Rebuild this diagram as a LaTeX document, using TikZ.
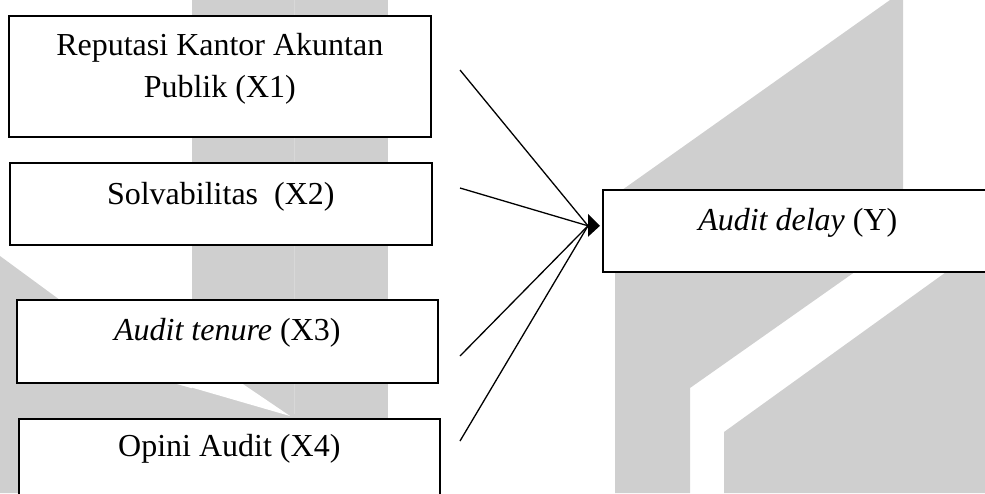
\documentclass[tikz,border=0pt]{standalone}
\usepackage{fontspec}
\setmainfont{Liberation Serif}
\usetikzlibrary{calc}
\definecolor{wmgray}{RGB}{207,207,207}
\definecolor{wmline}{RGB}{216,216,216}

\begin{document}
\begin{tikzpicture}[x=1pt,y=-1pt,
  varbox/.style={draw=black, line width=1.6pt, fill=white, rectangle,
    inner sep=0pt, anchor=north west},
  lbl/.style={font=\fontsize{32}{42}\selectfont, anchor=base, align=center,
    inner sep=0pt},
  link/.style={line width=1.3pt}]
\useasboundingbox (0,0) rectangle (985,493);
\clip (0,0) rectangle (985,493);

% background logo shapes
\fill[wmgray] (192,0) rectangle (388,493);
\fill[wmgray] (0,256) -- (173,383) -- (290,416) -- (290,493) -- (0,493) -- cycle;
\fill[white] (152,376) -- (231,376) -- (290,416) -- cycle;
\draw[wmline, line width=1pt] (294,0) -- (294,414);
\fill[wmgray] (890,0) -- (903,0) -- (903,238) -- (690,388) -- (690,493)
  -- (615,493) -- (615,195) -- cycle;
\fill[wmgray] (724,432) -- (985,244) -- (985,493) -- (724,493) -- cycle;

% variable boxes
\node[varbox, minimum width=422pt, minimum height=121pt] (x1) at (8,15) {};
\node[varbox, minimum width=422pt, minimum height=82pt] (x2) at (9,162) {};
\node[varbox, minimum width=421pt, minimum height=83pt] (x3) at (16,299) {};
\node[varbox, minimum width=421pt, minimum height=100pt] (x4) at (18,418) {};
\node[varbox, minimum width=390pt, minimum height=82pt] (yb) at (602,189) {};

% box texts (a two-line node sits on the baseline of its last line)
\node[lbl] (t1) at ($(x1.north)+(0,82)$) {Reputasi Kantor Akuntan\\Publik (X1)};
\node[lbl] (t2) at ($(x2.north)+(0,42)$) {Solvabilitas\ \ (X2)};
\node[lbl] (t3) at ($(x3.north)+(0,41)$) {\textit{Audit tenure} (X3)};
\node[lbl] (t4) at ($(x4.north)+(0,38)$) {Opini Audit (X4)};
\node[lbl] (ty) at ($(yb.north)+(0,41)$) {\textit{Audit delay} (Y)};

% arrows into the dependent variable, meeting under one shared head
\coordinate (s1) at (460,70);
\coordinate (s2) at (460,188);
\coordinate (s3) at (460,356);
\coordinate (s4) at (460,441);
\coordinate (tip) at ([yshift=5pt,xshift=-2pt]yb.west);
\coordinate (meet) at ($(tip)+(-12,0)$);
\draw[link] (s1) -- (meet);
\draw[link] (s2) -- (meet);
\draw[link] (s3) -- (meet);
\draw[link] (s4) -- (meet);
\fill[black] (tip) -- ($(tip)+(-12,-12)$) -- ($(tip)+(-12,11)$) -- cycle;
\end{tikzpicture}
\end{document}
